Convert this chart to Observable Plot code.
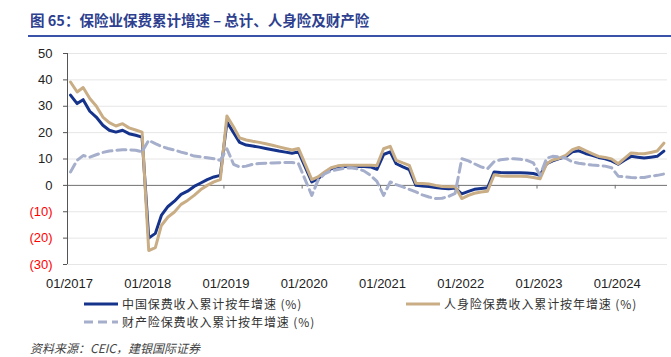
<!DOCTYPE html>
<html><head><meta charset="utf-8">
<script src="https://cdn.jsdelivr.net/npm/d3@7"></script>
<script src="https://cdn.jsdelivr.net/npm/@observablehq/plot@0.6"></script>
<style>
body{margin:0;background:#fff;width:671px;height:357px;overflow:hidden;position:relative;font-family:"Noto Sans CJK SC",sans-serif;}
#title{position:absolute;left:30px;top:10px;font-size:14.5px;font-weight:bold;color:#2E3F8F;white-space:nowrap;line-height:20px;}
#rule{position:absolute;left:28px;right:0;top:35px;height:2px;background:#3A52A8;}
#chart{position:absolute;left:0;top:42px;}
.leg{position:absolute;font-size:12px;letter-spacing:0.9px;color:#333;line-height:14px;white-space:nowrap;}
.sw{position:absolute;}
#src{position:absolute;left:30px;top:340px;font-size:12px;font-style:italic;color:#444;white-space:nowrap;line-height:16px;}
</style></head>
<body>
<div id="title">图 65：保险业保费累计增速 – 总计、人身险及财产险</div>
<div id="rule"></div>
<div id="chart"></div>
<div id="legend"></div>
<div id="src">资料来源：CEIC，建银国际证券</div>
<script>
// Monthly series, 2017-01 .. 2024-08 (null = no data)
const total = [
  34.2, 31.0, 32.5, 28.1, 25.9, 22.8, 20.9, 20.2, 20.9, 19.6, 19.0, 18.3,
  -20.0, -18.2, -11.4, -8.0, -6.0, -3.4, -2.2, -0.4, 0.9, 2.2, 3.2, 3.8,
  24.0, 20.0, 16.3, 15.3, 14.9, 14.5, 14.0, 13.5, 13.0, 12.6, 12.2, 12.7,
  null, 1.3, 2.5, 4.7, 6.3, 7.0, 7.2, 7.2, 7.2, 7.2, 7.0, 6.1,
  11.7, 12.7, 8.2, 7.0, 6.0, 0.0, -0.2, -0.4, -0.8, -1.1, -1.3, -1.0,
  -3.2, -2.3, -1.5, -1.2, -0.9, 5.1, 4.9, 4.8, 4.8, 4.8, 4.7, 4.5,
  3.8, 8.2, 9.3, 10.2, 10.8, 12.7, 13.1, 12.1, 11.4, 10.6, 10.1, 9.3,
  8.0, 9.6, 11.0, 10.7, 10.4, 10.7, 11.0, 13.0
];
const life = [
  39.2, 35.4, 37.1, 32.9, 30.1, 25.9, 23.8, 22.5, 23.4, 21.8, 21.0, 20.2,
  -24.7, -23.6, -15.2, -12.0, -10.1, -7.2, -5.7, -3.8, -1.6, 0.0, 1.3, 2.2,
  26.3, 22.1, 18.0, 17.2, 16.7, 16.3, 15.8, 15.2, 14.6, 14.0, 13.4, 14.0,
  null, 2.2, 3.2, 5.1, 6.7, 7.4, 7.6, 7.6, 7.6, 7.6, 7.6, 7.5,
  13.9, 14.8, 9.5, 8.5, 7.6, 0.8, 0.7, 0.5, 0.0, -0.4, -0.5, -0.4,
  -5.0, -3.8, -3.0, -2.5, -2.2, 4.0, 3.6, 3.5, 3.5, 3.5, 3.4, 3.0,
  2.5, 8.2, 9.6, 10.3, 11.4, 13.5, 14.4, 13.2, 12.0, 11.0, 10.6, 10.0,
  8.2, 10.3, 12.3, 12.1, 12.0, 12.5, 13.0, 16.0
];
const property = [
  5.1, 9.5, 11.3, 10.7, 11.6, 12.5, 13.0, 13.3, 13.5, 13.5, 13.3, 12.7,
  17.1, 15.8, 14.8, 14.0, 13.4, 12.6, 12.0, 11.1, 10.8, 10.5, 10.1, 9.5,
  13.9, 8.0, 7.0, 7.3, 8.0, 8.3, 8.4, 8.5, 8.6, 8.7, 8.7, 8.2,
  null, -3.8, 1.9, 4.4, 5.5, 6.0, 6.5, 6.7, 6.3, 5.5, 3.8, 1.5,
  -3.8, 1.3, 0.3, -0.6, -1.5, -2.5, -3.6, -4.4, -5.0, -4.9, -4.2, -3.0,
  10.1, 9.3, 8.2, 7.0, 6.3, 9.0, 9.7, 10.0, 10.1, 9.9, 9.5, 8.5,
  3.8, 10.3, 11.0, 10.8, 10.3, 8.9, 8.4, 8.0, 7.7, 7.5, 7.3, 6.7,
  3.5, 3.2, 3.0, 2.9, 3.0, 3.5, 3.8, 4.3
];
const seriesNames = ["中国保费收入累计按年增速 (%)", "人身险保费收入累计按年增速 (%)", "财产险保费收入累计按年增速 (%)"];
const seriesColors = ["#16338C", "#C9AD85", "#A5AECB"];
const yearTicks = [2017, 2018, 2019, 2020, 2021, 2022, 2023, 2024];
const yTicks = [50, 40, 30, 20, 10, 0, -10, -20, -30];

const start = new Date(Date.UTC(2017, 0, 1));
const end = new Date(Date.UTC(2024, 8, 1));
const rows = total.map((v, i) => ({
  date: new Date(Date.UTC(2017, i, 15)),
  total: v, life: life[i], property: property[i]
}));
const yearDates = yearTicks.map(y => new Date(Date.UTC(y, 0, 1)));
const fmtY = d => d < 0 ? `(${-d})` : `${d}`;

const chart = Plot.plot({
  width: 671, height: 250,
  marginLeft: 67, marginRight: 4, marginTop: 11, marginBottom: 28,
  x: {type: "utc", domain: [start, end]},
  y: {domain: [-30, 50]},
  style: {fontFamily: "'Liberation Sans', sans-serif", fontSize: "13px", color: "#222", background: "white", overflow: "visible"},
  marks: [
    Plot.ruleY(yTicks.filter(d => d !== 0), {stroke: "#e6e6e6", strokeWidth: 1}),
    Plot.ruleY([0], {stroke: "#707070", strokeWidth: 1}),
    Plot.ruleX(yearDates.slice(1), {y1: 0, y2: -1.4, stroke: "#707070"}),
    Plot.ruleX([start], {stroke: "#555", strokeWidth: 1}),
    Plot.axisY(yTicks, {tickSize: 4, text: null, stroke: "#555"}),
    Plot.axisY(yTicks.filter(d => d >= 0), {tickSize: 0, tickPadding: 15, tickFormat: fmtY, color: "#222"}),
    Plot.axisY(yTicks.filter(d => d < 0), {tickSize: 0, tickPadding: 15, tickFormat: fmtY, color: "#FF0000"}),
    Plot.axisX(yearDates, {tickSize: 0, tickPadding: 14, dx: 2, tickFormat: d3.utcFormat("%m/%Y"), color: "#222"}),
    Plot.line(rows, {filter: d => d.total != null, x: "date", y: "total", stroke: seriesColors[0], strokeWidth: 3}),
    Plot.line(rows, {filter: d => d.life != null, x: "date", y: "life", stroke: seriesColors[1], strokeWidth: 3}),
    Plot.line(rows, {filter: d => d.property != null, x: "date", y: "property", stroke: seriesColors[2], strokeWidth: 3, strokeDasharray: "9,5"})
  ]
});
document.getElementById("chart").appendChild(chart);

// Legend
const legendItems = [
  {name: seriesNames[0], color: seriesColors[0], dash: null, left: 84, top: 297},
  {name: seriesNames[1], color: seriesColors[1], dash: null, left: 406, top: 297},
  {name: seriesNames[2], color: seriesColors[2], dash: "9,5", left: 84, top: 315}
];
const leg = document.getElementById("legend");
for (const it of legendItems) {
  const sw = document.createElementNS("http://www.w3.org/2000/svg", "svg");
  sw.setAttribute("class", "sw");
  sw.setAttribute("width", 34); sw.setAttribute("height", 14);
  sw.style.left = it.left + "px"; sw.style.top = it.top + "px";
  const ln = document.createElementNS("http://www.w3.org/2000/svg", "line");
  ln.setAttribute("x1", 0); ln.setAttribute("x2", 34);
  ln.setAttribute("y1", 7); ln.setAttribute("y2", 7);
  ln.setAttribute("stroke", it.color); ln.setAttribute("stroke-width", 3);
  if (it.dash) ln.setAttribute("stroke-dasharray", it.dash);
  sw.appendChild(ln);
  leg.appendChild(sw);
  const t = document.createElement("div");
  t.className = "leg";
  t.textContent = it.name;
  t.style.left = (it.left + 38) + "px"; t.style.top = it.top + "px";
  leg.appendChild(t);
}
</script>
</body></html>
